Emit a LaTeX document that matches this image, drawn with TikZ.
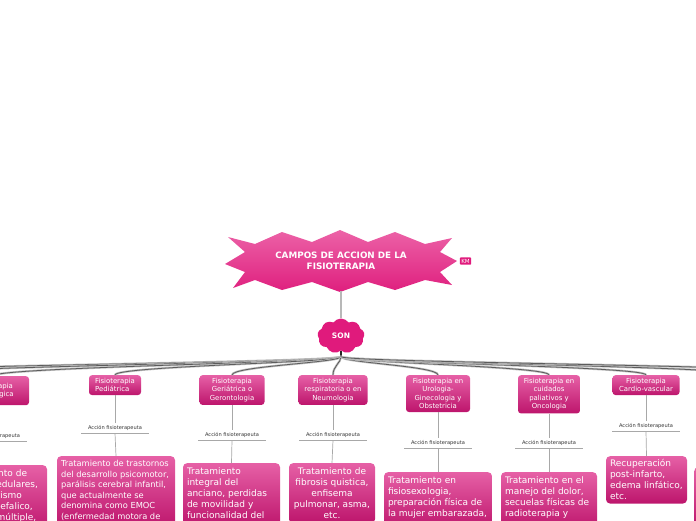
\documentclass[tikz,border=0pt]{standalone}
\usepackage{fontspec}
\setmainfont{DejaVu Sans}
\usetikzlibrary{shapes.symbols}
\definecolor{burstlt}{HTML}{EC62A7}
\definecolor{burstdk}{HTML}{DF1F7E}
\definecolor{cloudpk}{HTML}{E01A7C}
\definecolor{cardlt}{HTML}{E660A6}
\definecolor{carddk}{HTML}{BD156C}
\definecolor{bundlegray}{HTML}{5C5C5C}
\definecolor{wiregray}{HTML}{A8A8A8}
\definecolor{stemgray}{HTML}{B8B8B8}
\newcommand{\cardtext}[4]{\parbox[t][#2][t]{#1}{#3#4}}

\begin{document}
\begin{tikzpicture}[x=1pt,y=1pt,
  head/.style={rounded corners=3pt,top color=cardlt,bottom color=carddk,text=white,align=center,anchor=north,inner xsep=3pt,inner ysep=3pt,font=\fontsize{6.9pt}{8.5pt}\selectfont},
  card/.style={rounded corners=4pt,top color=cardlt,bottom color=carddk,text=white,anchor=north,inner sep=4pt,font=\fontsize{9pt}{11pt}\selectfont},
  act/.style={text=black!80,font=\fontsize{5.1pt}{6pt}\selectfont,minimum width=67pt,text height=4pt,text depth=1.2pt,inner ysep=2.4pt,inner xsep=0pt},
  wire/.style={draw=wiregray,line width=0.7pt},
  link/.style={draw=bundlegray,line width=0.8pt,preaction={draw=black!25,line width=2.2pt},out=-90,in=90,out distance=6pt,in distance=9pt}]
  \useasboundingbox (0,0) rectangle (696,-520);
  \clip (0,0) rectangle (696,-520);

  % Central burst
  \shade[top color=burstlt,bottom color=burstdk] (225,-264) -- (245,-252) -- (228,-237) -- (255,-244) -- (282,-232) -- (312,-242) -- (340,-230) -- (368,-242) -- (395,-232) -- (425,-244) -- (452,-238) -- (440,-252) -- (457,-261) -- (440,-272) -- (452,-285) -- (425,-280) -- (395,-290) -- (368,-282) -- (340,-292) -- (312,-282) -- (282,-290) -- (255,-280) -- (233,-288) -- (245,-272) -- cycle;
  \node[font=\bfseries\fontsize{8.8pt}{11pt}\selectfont,text=white,align=center,minimum width=230pt,minimum height=60pt] (title) at (341,-261) {CAMPOS DE ACCION DE LA\\FISIOTERAPIA};
  \node[fill=cloudpk,text=white,font=\fontsize{5.6pt}{6pt}\selectfont,inner xsep=1.4pt,inner ysep=1.6pt,rounded corners=0.8pt] (km) at (465.5,-261) {KM};

  % SON
  \node[cloud,cloud puffs=9,cloud puff arc=110,aspect=1.4,fill=cloudpk,text=white,font=\bfseries\fontsize{7.5pt}{8pt}\selectfont,minimum width=47pt,minimum height=35pt,inner sep=0pt] (son) at (341,-336) {SON};
  \draw[draw=stemgray,line width=1.6pt] (title.south) -- (son.north);
  \draw[black!85,line width=1.2pt] (son.south) -- ++(0,-6) coordinate (hub);

  % Neurologica column (cut at the left)
  \node[head,minimum width=72pt,minimum height=29pt] (h0) at (-7,-376) {Fisioterapia\\Neurológica};
  \node[act] (a0) at (-7,-436) {Acción fisioterapeuta};
  \node[card] (t0) at (-7,-465) {\cardtext{100pt}{60pt}{\centering}{Tratamiento de\\lesiones medulares,\\traumatismo\\craneoencefalico,\\esclerosis múltiple,}};
  \draw[wire] (a0.south west) -- (a0.south east);
  \draw[wire] (h0.south) -- (a0.north);
  \draw[wire] (a0.south) -- (t0.north);

  % Pediatrica column
  \node[head,align=left,minimum width=52pt] (h1) at (115,-375) {Fisioterapia\\Pediátrica};
  \node[act] (a1) at (115,-428) {Acción fisioterapeuta};
  \node[card,font=\fontsize{8.3pt}{10.6pt}\selectfont] (t1) at (116,-456) {\cardtext{110pt}{64pt}{\raggedright}{Tratamiento de trastornos\\del desarrollo psicomotor,\\parálisis cerebral infantil,\\que actualmente se\\denomina como EMOC\\(enfermedad motora de}};
  \draw[wire] (a1.south west) -- (a1.south east);
  \draw[wire] (h1.south) -- (a1.north);
  \draw[wire] (a1.south) -- (t1.north);

  % Geriatrica column
  \node[head,minimum width=65pt] (h2) at (232,-375) {Fisioterapia\\Geriátrica o\\Gerontologia};
  \node[act] (a2) at (232,-435) {Acción fisioterapeuta};
  \node[card] (t2) at (231.5,-463) {\cardtext{89pt}{56pt}{\raggedright}{Tratamiento\\integral del\\anciano, perdidas\\de movilidad y\\funcionalidad del}};
  \draw[wire] (a2.south west) -- (a2.south east);
  \draw[wire] (h2.south) -- (a2.north);
  \draw[wire] (a2.south) -- (t2.north);

  % Respiratoria column
  \node[head,minimum width=69pt] (h3) at (333,-375) {Fisioterapia\\respiratoria o en\\Neumologia};
  \node[act] (a3) at (333,-435) {Acción fisioterapeuta};
  \node[card] (t3) at (332,-463) {\cardtext{78pt}{52pt}{\centering}{Tratamiento de\\fibrosis quistica,\\enfisema\\pulmonar, asma,\\etc.}};
  \draw[wire] (a3.south west) -- (a3.south east);
  \draw[wire] (h3.south) -- (a3.north);
  \draw[wire] (a3.south) -- (t3.north);

  % Urologia column
  \node[head,minimum width=64pt] (h4) at (438,-375) {Fisioterapia en\\Urologia-\\Ginecologia y\\Obstetricia};
  \node[act] (a4) at (438,-443) {Acción fisioterapeuta};
  \node[card] (t4) at (438,-472) {\cardtext{100pt}{50pt}{\raggedright}{Tratamiento en\\fisiosexologia,\\preparación física de\\la mujer embarazada,}};
  \draw[wire] (a4.south west) -- (a4.south east);
  \draw[wire] (h4.south) -- (a4.north);
  \draw[wire] (a4.south) -- (t4.north);

  % Oncologia column
  \node[head,minimum width=62pt] (h5) at (549,-375) {Fisioterapia en\\cuidados\\paliativos y\\Oncologia};
  \node[act] (a5) at (549,-443) {Acción fisioterapeuta};
  \node[card] (t5) at (549,-472) {\cardtext{88pt}{50pt}{\raggedright}{Tratamiento en el\\manejo del dolor,\\secuelas físicas de\\radioterapia y}};
  \draw[wire] (a5.south west) -- (a5.south east);
  \draw[wire] (h5.south) -- (a5.north);
  \draw[wire] (a5.south) -- (t5.north);

  % Cardio-vascular column
  \node[head,minimum width=67pt] (h6) at (646,-375) {Fisioterapia\\Cardio-vascular};
  \node[act] (a6) at (646,-426) {Acción fisioterapeuta};
  \node[card,text width=73pt,align=left,inner ysep=3.5pt] (t6) at (646.5,-456) {Recuperación\\post-infarto,\\edema linfático,\\etc.};
  \draw[wire] (a6.south west) -- (a6.south east);
  \draw[wire] (h6.south) -- (a6.north);
  \draw[wire] (a6.south) -- (t6.north);

  % Cut at the right
  \node[card,anchor=north west,minimum width=100pt,minimum height=60pt] (t7) at (694,-467) {};

  % Branches from SON
  \coordinate (westA) at (-115,-376);
  \coordinate (westB) at (-225,-376);
  \coordinate (eastA) at (744,-375);
  \coordinate (eastB) at (850,-375);
  \draw[link] (hub) to (westB);
  \draw[link] (hub) to (westA);
  \draw[link] (hub) to (h0.north);
  \draw[link] (hub) to (h1.north);
  \draw[link] (hub) to (h2.north);
  \draw[link] (hub) to (h3.north);
  \draw[link] (hub) to (h4.north);
  \draw[link] (hub) to (h5.north);
  \draw[link] (hub) to (h6.north);
  \draw[link] (hub) to (eastA);
  \draw[link] (hub) to (eastB);
\end{tikzpicture}
\end{document}
